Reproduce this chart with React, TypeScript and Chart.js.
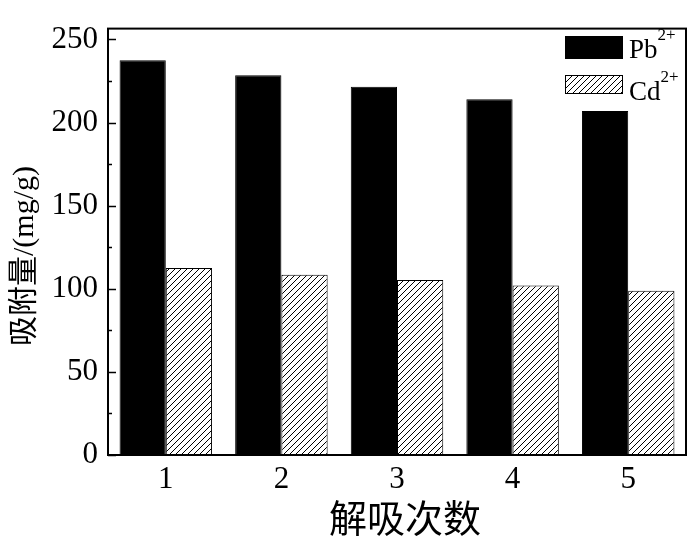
import React, { useEffect, useRef } from "react";
import { Chart, registerables } from "chart.js";

Chart.register(...registerables);

const categories = ["1", "2", "3", "4", "5"];
const pbValues = [237.5, 228.5, 221.5, 214, 207];
const cdValues = [112.5, 108.5, 105.2, 102, 98.8];
const yTicks = [0, 50, 100, 150, 200, 250];
const yMinorTicks = [25, 75, 125, 175, 225];
const xTitle = "解吸次数";
const yTitle = "吸附量/(mg/g)";
const legendItems = [
  { name: "Pb", sup: "2+" },
  { name: "Cd", sup: "2+" },
];

const SERIF = '"Liberation Serif", "Times New Roman", "Noto Sans CJK SC", serif';

function makeHatch(): CanvasPattern | string {
  const s = 6;
  const c = document.createElement("canvas");
  c.width = s;
  c.height = s;
  const ctx = c.getContext("2d");
  if (!ctx) return "#fff";
  ctx.fillStyle = "#fff";
  ctx.fillRect(0, 0, s, s);
  ctx.strokeStyle = "#000";
  ctx.lineWidth = 1;
  ctx.beginPath();
  ctx.moveTo(0, s);
  ctx.lineTo(s, 0);
  ctx.moveTo(-1, 1);
  ctx.lineTo(1, -1);
  ctx.moveTo(s - 1, s + 1);
  ctx.lineTo(s + 1, s - 1);
  ctx.stroke();
  const p = ctx.createPattern(c, "repeat");
  return p || "#fff";
}

export default function App() {
  const ref = useRef<HTMLCanvasElement | null>(null);

  useEffect(() => {
    document.body.style.margin = "0";
    const canvas = ref.current;
    if (!canvas) return;
    const hatch = makeHatch();

    const decor = {
      id: "decor",
      afterDraw(chart: any) {
        const ctx = chart.ctx;
        const a = chart.chartArea;
        const y = chart.scales.y;
        ctx.save();
        // frame
        ctx.strokeStyle = "#000";
        ctx.lineWidth = 2;
        ctx.strokeRect(a.left, a.top, a.right - a.left, a.bottom - a.top);
        // inward ticks on left axis
        ctx.lineWidth = 1.5;
        ctx.beginPath();
        for (const v of yTicks) {
          const py = Math.round(y.getPixelForValue(v)) + 0.5;
          ctx.moveTo(a.left, py);
          ctx.lineTo(a.left + 8, py);
        }
        for (const v of yMinorTicks) {
          const py = Math.round(y.getPixelForValue(v)) + 0.5;
          ctx.moveTo(a.left, py);
          ctx.lineTo(a.left + 4, py);
        }
        ctx.stroke();

        // axis titles
        ctx.fillStyle = "#000";
        ctx.textAlign = "center";
        ctx.textBaseline = "middle";
        ctx.font = `38px ${SERIF}`;
        ctx.fillText(xTitle, (a.left + a.right) / 2 + 8, 522);
        ctx.save();
        ctx.translate(25, 256);
        ctx.rotate(-Math.PI / 2);
        ctx.font = `30px ${SERIF}`;
        ctx.fillText(yTitle, 0, 0);
        ctx.restore();

        // legend
        const boxes = [
          { y: 36, h: 23, fill: "#000", base: 58 },
          { y: 75, h: 19, fill: hatch, base: 100 },
        ];
        legendItems.forEach((it, i) => {
          const b = boxes[i];
          ctx.fillStyle = b.fill as any;
          ctx.fillRect(565, b.y, 58, b.h);
          ctx.strokeStyle = "#000";
          ctx.lineWidth = 1;
          ctx.strokeRect(565.5, b.y + 0.5, 57, b.h - 1);
          ctx.fillStyle = "#000";
          ctx.textAlign = "left";
          ctx.textBaseline = "alphabetic";
          ctx.font = `27px ${SERIF}`;
          ctx.fillText(it.name, 629, b.base);
          const w = ctx.measureText(it.name).width;
          ctx.font = `17px ${SERIF}`;
          ctx.fillText(it.sup, 629 + w, b.base - 18);
        });
        ctx.restore();
      },
    };

    const chart = new Chart(canvas, {
      type: "bar",
      data: {
        labels: categories,
        datasets: [
          {
            label: "Pb2+",
            data: pbValues,
            backgroundColor: "#000",
            borderColor: "#000",
            borderWidth: 1,
            categoryPercentage: 0.8,
            barPercentage: 1.0,
          },
          {
            label: "Cd2+",
            data: cdValues,
            backgroundColor: hatch as any,
            borderColor: "#000",
            borderWidth: 1,
            categoryPercentage: 0.8,
            barPercentage: 1.0,
          },
        ],
      },
      options: {
        animation: false,
        responsive: false,
        maintainAspectRatio: false,
        layout: { padding: { left: 0, top: 24, right: 14, bottom: 0 } },
        plugins: {
          legend: { display: false },
          tooltip: { enabled: false },
        },
        scales: {
          x: {
            type: "category",
            offset: true,
            grid: { display: false, drawTicks: false },
            border: { display: false },
            ticks: {
              color: "#000",
              font: { family: SERIF, size: 31 },
              padding: 6,
              maxRotation: 0,
            },
            afterFit(scale: any) {
              scale.height = 88;
            },
          },
          y: {
            type: "linear",
            min: 0,
            max: 256.5,
            grid: { display: false, drawTicks: false },
            border: { display: false },
            afterBuildTicks(scale: any) {
              scale.ticks = yTicks.map((v) => ({ value: v }));
            },
            ticks: {
              color: "#000",
              font: { family: SERIF, size: 31 },
              padding: 10,
            },
            afterFit(scale: any) {
              scale.width = 108;
            },
          },
        },
      },
      plugins: [decor],
    });
    return () => chart.destroy();
  }, []);

  return (
    <div style={{ width: 700, height: 543, background: "#fff" }}>
      <canvas ref={ref} width={700} height={543} style={{ display: "block" }} />
    </div>
  );
}
